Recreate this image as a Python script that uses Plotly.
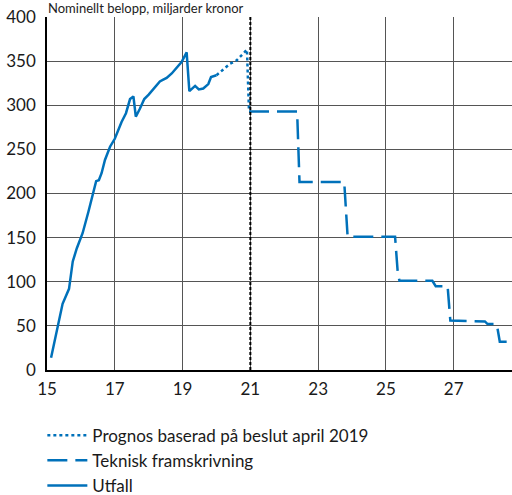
import plotly.graph_objects as go

# utfall (outcome), years since 2000
utfall_x = [15.12, 15.33, 15.46, 15.65, 15.76, 15.88, 16.05, 16.22, 16.37, 16.45, 16.53, 16.61,
            16.71, 16.86, 17.0, 17.2, 17.33, 17.45, 17.55, 17.62, 17.74, 17.87, 18.0, 18.17,
            18.33, 18.43, 18.53, 18.68, 18.83, 18.97, 19.12, 19.2, 19.37, 19.48, 19.61, 19.76,
            19.84, 20.0]
utfall_y = [14, 51, 75, 92, 123, 138, 155, 179, 200, 214, 215, 223,
            238, 253, 262, 281, 291, 307, 310, 287, 296, 307, 312, 320,
            327, 329, 331, 336, 343, 349, 360, 316, 322, 318, 319, 324,
            332, 334]

prognos_x = [20.0, 20.4, 20.6, 20.9, 20.96]
prognos_y = [334, 347, 351, 363, 293]

teknisk_x = [20.96, 22.38, 22.45, 23.77, 23.87, 25.27, 25.35, 25.4, 26.37, 26.47, 26.82,
             26.9, 27.92, 28.0, 28.27, 28.36, 28.75]
teknisk_y = [293, 293, 213, 213, 151, 151, 110, 101, 101, 95, 95,
             56, 55, 52, 52, 32, 32]

blue = "#0071BA"
font = "Lato, Noto Sans, sans-serif"

fig = go.Figure()
fig.add_trace(go.Scatter(x=prognos_x, y=prognos_y, mode="lines",
                         name="Prognos baserad på beslut april 2019",
                         line=dict(color=blue, width=2.5, dash="3px,3px")))
fig.add_trace(go.Scatter(x=teknisk_x, y=teknisk_y, mode="lines",
                         name="Teknisk framskrivning",
                         line=dict(color=blue, width=2.5, dash="20px,8px")))
fig.add_trace(go.Scatter(x=utfall_x, y=utfall_y, mode="lines", name="Utfall",
                         line=dict(color=blue, width=2.5)))

# vertical marker at 21
fig.add_shape(type="line", x0=21, x1=21, y0=0, y1=400, xref="x", yref="y",
              line=dict(color="black", width=2, dash="3px,2px"))

fig.add_annotation(text="Nominellt belopp, miljarder kronor", xref="paper", yref="paper",
                   x=0, y=1, xanchor="left", yanchor="bottom", yshift=0, showarrow=False,
                   borderpad=0, font=dict(size=13, color="#222", family=font))

fig.update_xaxes(range=[15, 28.72], tick0=15, dtick=2, showgrid=True, gridcolor="#555",
                 gridwidth=1, showline=True, linecolor="black", linewidth=1.5,
                 ticks="", ticklabelstandoff=3, zeroline=False, automargin=False,
                 tickfont=dict(size=17))
fig.update_yaxes(range=[0, 400], dtick=50, showgrid=True, gridcolor="#555", gridwidth=1,
                 showline=True, linecolor="black", linewidth=1.5, ticks="",
                 ticklabelstandoff=6, zeroline=False, automargin=False,
                 tickfont=dict(size=17))

fig.update_layout(
    width=512, height=495,
    margin=dict(l=47, r=0, t=17, b=125, autoexpand=False),
    plot_bgcolor="white", paper_bgcolor="white",
    font=dict(family=font, size=16, color="#1a1a1a"),
    showlegend=True,
    legend=dict(x=-0.01, y=-0.135, xanchor="left", yanchor="top", orientation="v",
                font=dict(size=17), bgcolor="rgba(0,0,0,0)", itemwidth=40,
                tracegroupgap=0),
)

# page has a default 8px body margin; drop it so the figure sits at 0,0
fig.write_html("out.html", config={"displayModeBar": False},
               post_script="document.body.style.margin='0';")
